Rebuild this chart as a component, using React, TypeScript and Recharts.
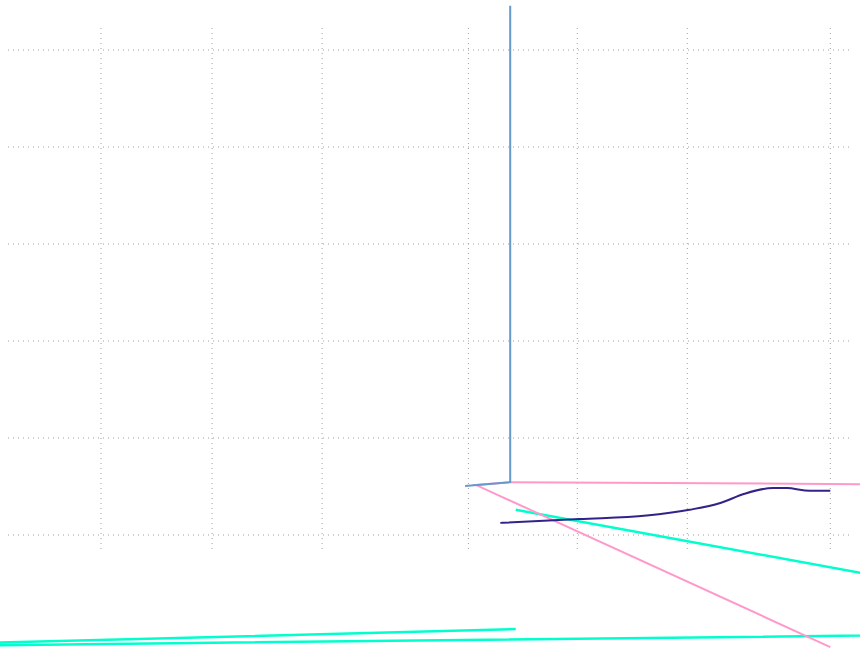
import React from 'react';
import { LineChart, Line, XAxis, YAxis, CartesianGrid } from 'recharts';

// Grid positions along each axis
const xTicks = [0, 10.1, 20.1, 33.4, 43.3, 53.3, 66.3];
const yTicks = [0, 20, 40, 60, 80, 100];

// Series, listed in drawing order (points are joined in array order)
const tealSeries = [
  { x: 37.7, y: -19.4 },
  { x: -24.5, y: -23.1 },
  { x: 98.5, y: -20.0 },
  { x: 37.7, y: 5.2 },
];

const pinkSeries = [
  { x: 90.8, y: 10.2 },
  { x: 37.2, y: 10.9 },
  { x: 34.1, y: 10.3 },
  { x: 66.3, y: -23.1 },
];

const blueSeries = [
  { x: 33.1, y: 10.1 },
  { x: 37.2, y: 10.9 },
  { x: 37.2, y: 109.1 },
];

const navySeries = [
  { x: 36.3, y: 2.5 },
  { x: 43.5, y: 3.3 },
  { x: 49.6, y: 4.0 },
  { x: 53.5, y: 5.2 },
  { x: 56.3, y: 6.6 },
  { x: 58.5, y: 8.5 },
  { x: 61.1, y: 9.7 },
  { x: 62.4, y: 9.7 },
  { x: 64.0, y: 9.2 },
  { x: 66.3, y: 9.1 },
];

const xDomain: [number, number] = [-36, 100];
const yDomain: [number, number] = [-40, 120];

// the plot runs wider than the window so the overflowing lines keep going
const CHART_W = 1496;
const CHART_H = 776;
const CHART_LEFT = -295;
const CHART_TOP = -47;

// dotted grid box, in page pixels
const GRID = { left: 8, top: 28, right: 850, bottom: 552 };

export default function App() {
  return (
    <div style={{ position: 'absolute', left: 0, top: 0, width: 860, height: 650, overflow: 'hidden', background: '#fff' }}>
      <div style={{ position: 'absolute', left: CHART_LEFT, top: CHART_TOP }}>
        <LineChart width={CHART_W} height={CHART_H} margin={{ top: 0, right: 0, bottom: 0, left: 0 }}>
          <CartesianGrid
            x={GRID.left - CHART_LEFT}
            y={GRID.top - CHART_TOP}
            width={GRID.right - GRID.left}
            height={GRID.bottom - GRID.top}
            stroke="#a0a0a0"
            strokeDasharray="1 4"
          />
          <XAxis dataKey="x" type="number" domain={xDomain} ticks={xTicks} interval={0} hide />
          <YAxis type="number" domain={yDomain} ticks={yTicks} interval={0} hide />
          <Line data={tealSeries} dataKey="y" type="linear" stroke="#00ffcc" strokeWidth={2.5} dot={false} activeDot={false} isAnimationActive={false} />
          <Line data={pinkSeries} dataKey="y" type="linear" stroke="#ff99cc" strokeWidth={2} dot={false} activeDot={false} isAnimationActive={false} />
          <Line data={blueSeries} dataKey="y" type="linear" stroke="#6699cc" strokeWidth={2} dot={false} activeDot={false} isAnimationActive={false} />
          <Line data={navySeries} dataKey="y" type="monotone" stroke="#332288" strokeWidth={2} dot={false} activeDot={false} isAnimationActive={false} />
        </LineChart>
      </div>
    </div>
  );
}
